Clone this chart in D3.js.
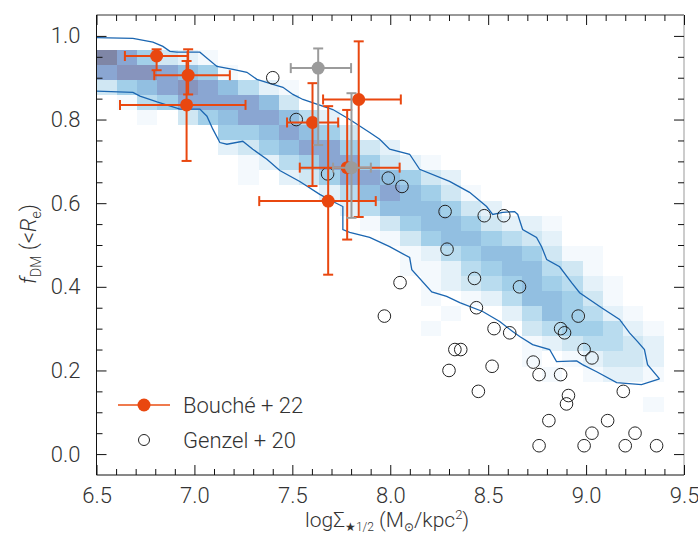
<!DOCTYPE html>
<html><head><meta charset="utf-8">
<script src="https://cdn.jsdelivr.net/npm/d3@7"></script>
<style>
body{margin:0;background:#fff}
svg text{font-family:Roboto,"Liberation Sans",Arial,sans-serif;font-weight:300;fill:#333}
</style>
</head><body>
<svg id="chart" width="698" height="535"></svg>
<script>
// ---------- data ----------
const xDomain = [6.5, 9.5];
const yDomain = [-0.05, 1.05];
const xMajorTicks = [6.5, 7.0, 7.5, 8.0, 8.5, 9.0, 9.5];
const yMajorTicks = [0.0, 0.2, 0.4, 0.6, 0.8, 1.0];
const xMinorStep = 0.1, yMinorStep = 0.05;

// 2D histogram (heat map): 29 bins in x across the axis range, rows of fixed height in y
const heatXBins = 29;
const heatYStart = 0.101, heatYStep = 0.0361;
const heatColors = ["#f4f9fd","#e4f1f9","#d0e7f3","#b9dcef","#a2cfe9","#92bfe1","#8aa6d2","#8794bd","#7f86a6"];
// [row, first column, levels per column]
const heatCells = [
  [23, 0, "975321"],
  [22, 0, "7887651"],
  [21, 0, "3567876421"],
  [20, 1, "145777763"],
  [19, 2, "1035677642"],
  [18, 6, "5567653"],
  [17, 6, "235677532"],
  [16, 7, "1245775321"],
  [15, 7, "10235776532"],
  [14, 11, "24676531"],
  [13, 12, "24666532"],
  [12, 13, "1356653221"],
  [11, 14, "135665432"],
  [10, 15, "1245665311"],
  [9, 15, "1124566431"],
  [8, 16, "1234565421"],
  [7, 16, "1012466531"],
  [6, 17, "1002465421"],
  [5, 16, "100003455421"],
  [4, 21, "1234432"],
  [3, 21, "1012332"],
  [2, 22, "101221"],
  [0, 27, "1"]
];

// contour (outer envelope)
const contourUpperX = [6.5,6.686,6.788,6.839,6.875,6.911,7.028,7.054,7.115,7.197,7.268,7.319,7.401,7.452,7.503,7.554,7.707,7.793,7.895,7.946,7.997,8.099,8.150,8.303,8.405,8.492,8.523,8.574,8.635,8.651,8.676,8.747,8.773,8.799,8.865,8.926,8.967,9.079,9.171,9.222,9.263,9.298,9.314,9.375];
const contourUpperY = [0.996,0.994,0.985,0.975,0.963,0.961,0.961,0.951,0.927,0.920,0.913,0.896,0.884,0.877,0.860,0.848,0.824,0.800,0.769,0.753,0.729,0.717,0.681,0.652,0.626,0.592,0.573,0.578,0.580,0.573,0.537,0.518,0.496,0.465,0.448,0.410,0.386,0.350,0.322,0.290,0.269,0.250,0.214,0.180];
const contourLowerX = [6.5,6.686,6.722,6.809,6.926,7.028,7.064,7.094,7.130,7.166,7.247,7.298,7.370,7.436,7.538,7.640,7.707,7.758,7.758,7.793,7.895,7.997,8.099,8.110,8.212,8.288,8.355,8.472,8.559,8.625,8.661,8.727,8.814,8.849,8.952,8.982,9.054,9.156,9.283,9.375];
const contourLowerY = [0.868,0.865,0.856,0.842,0.825,0.825,0.808,0.777,0.745,0.741,0.748,0.729,0.705,0.678,0.652,0.621,0.604,0.592,0.537,0.530,0.518,0.496,0.470,0.441,0.388,0.377,0.362,0.341,0.317,0.293,0.281,0.262,0.250,0.221,0.223,0.214,0.197,0.171,0.166,0.180];

// Genzel + 20
const genzelX = [7.40,7.52,7.68,7.99,8.06,8.28,8.48,8.58,8.29,8.05,8.43,8.66,7.97,8.44,8.96,8.53,8.61,8.87,8.89,8.33,8.36,8.99,9.03,8.30,8.52,8.73,8.76,8.87,8.45,9.19,8.91,8.90,8.81,9.11,9.03,9.25,8.76,8.99,9.20,9.36];
const genzelY = [0.90,0.80,0.67,0.66,0.64,0.58,0.57,0.57,0.49,0.41,0.42,0.40,0.33,0.35,0.33,0.30,0.29,0.30,0.29,0.25,0.25,0.25,0.23,0.20,0.21,0.22,0.19,0.19,0.15,0.15,0.14,0.12,0.08,0.08,0.05,0.05,0.02,0.02,0.02,0.02];

// Bouché + 22
const boucheX   = [6.807,6.968,6.960,7.603,7.839,7.683,7.780];
const boucheY   = [0.952,0.906,0.835,0.793,0.848,0.605,0.685];
const boucheXLo = [6.645,6.795,6.620,7.473,7.657,7.331,7.538];
const boucheXHi = [6.965,7.181,7.261,7.734,8.054,7.926,8.048];
const boucheYLo = [0.918,0.860,0.701,0.641,0.567,0.429,0.513];
const boucheYHi = [0.968,0.968,0.940,0.887,0.987,0.832,0.823];

// grey points
const greyX   = [7.632,7.802];
const greyY   = [0.923,0.685];
const greyXLo = [7.492,7.708];
const greyXHi = [7.800,7.901];
const greyYLo = [0.739,0.565];
const greyYHi = [0.970,0.863];

const legendLabels = ["Bouché + 22", "Genzel + 20"];

// ---------- drawing ----------
const orange = "#e9470f", grey = "#9b9b9b", lineBlue = "#1b66b1";
const svg = d3.select("#chart");
const x = d3.scaleLinear().domain(xDomain).range([96.5, 684]);
const y = d3.scaleLinear().domain(yDomain).range([475, 15]);

// heat map
const cells = [];
heatCells.forEach(([r, c0, s]) => {
  s.split("").forEach((ch, k) => { const v = +ch; if (v > 0) cells.push({r, c: c0 + k, v}); });
});
const bw = (xDomain[1] - xDomain[0]) / heatXBins;
svg.append("g").attr("shape-rendering", "crispEdges").selectAll("rect").data(cells).join("rect")
  .attr("x", d => x(xDomain[0] + d.c * bw))
  .attr("width", d => x(xDomain[0] + (d.c + 1) * bw) - x(xDomain[0] + d.c * bw))
  .attr("y", d => y(heatYStart + (d.r + 1) * heatYStep))
  .attr("height", d => y(heatYStart + d.r * heatYStep) - y(heatYStart + (d.r + 1) * heatYStep))
  .attr("fill", d => heatColors[d.v - 1]);

// contour
const line = d3.line().x(d => x(d[0])).y(d => y(d[1]));
const contourPts = contourUpperX.map((v, i) => [v, contourUpperY[i]]);
const lowerPts = contourLowerX.map((v, i) => [v, contourLowerY[i]]);
svg.append("path").attr("d", line(contourPts)).attr("fill", "none").attr("stroke", lineBlue).attr("stroke-width", 1.3);
svg.append("path").attr("d", line(lowerPts)).attr("fill", "none").attr("stroke", lineBlue).attr("stroke-width", 1.3);

// Genzel circles
svg.append("g").selectAll("circle").data(genzelX.map((v, i) => [v, genzelY[i]])).join("circle")
  .attr("cx", d => x(d[0])).attr("cy", d => y(d[1])).attr("r", 6.3)
  .attr("fill", "none").attr("stroke", "#222").attr("stroke-width", 1);

function errPoints(X, Y, XL, XH, YL, YH, col) {
  const g = svg.append("g");
  const cap = 5;
  X.forEach((v, i) => {
    const cx = x(v), cy = y(Y[i]);
    g.append("line").attr("x1", x(XL[i])).attr("x2", x(XH[i])).attr("y1", cy).attr("y2", cy).attr("stroke", col).attr("stroke-width", 2);
    g.append("line").attr("x1", cx).attr("x2", cx).attr("y1", y(YL[i])).attr("y2", y(YH[i])).attr("stroke", col).attr("stroke-width", 2);
    [XL[i], XH[i]].forEach(xv => g.append("line").attr("x1", x(xv)).attr("x2", x(xv)).attr("y1", cy - cap).attr("y2", cy + cap).attr("stroke", col).attr("stroke-width", 2));
    [YL[i], YH[i]].forEach(yv => g.append("line").attr("x1", cx - cap).attr("x2", cx + cap).attr("y1", y(yv)).attr("y2", y(yv)).attr("stroke", col).attr("stroke-width", 2));
  });
  X.forEach((v, i) => g.append("circle").attr("cx", x(v)).attr("cy", y(Y[i])).attr("r", 6.5).attr("fill", col));
}
errPoints(boucheX, boucheY, boucheXLo, boucheXHi, boucheYLo, boucheYHi, orange);
errPoints(greyX, greyY, greyXLo, greyXHi, greyYLo, greyYHi, grey);

// frame
const fr = svg.append("g").attr("fill", "none");
fr.append("line").attr("x1", 96.5).attr("x2", 684).attr("y1", 15).attr("y2", 15).attr("stroke", "#333");
fr.append("line").attr("x1", 684).attr("x2", 684).attr("y1", 15).attr("y2", 475).attr("stroke", "#999");
fr.append("line").attr("x1", 96.5).attr("x2", 96.5).attr("y1", 15).attr("y2", 475).attr("stroke", "#111");
fr.append("line").attr("x1", 96.5).attr("x2", 684).attr("y1", 475).attr("y2", 475).attr("stroke", "#111");

// ticks via axes
const xMinor = d3.range(Math.round((xDomain[1] - xDomain[0]) / xMinorStep) + 1).map(i => xDomain[0] + i * xMinorStep).filter(v => !xMajorTicks.some(m => Math.abs(m - v) < 1e-6));
const yMinor = d3.range(1, 22).map(i => yDomain[0] + i * yMinorStep).filter(v => !yMajorTicks.some(m => Math.abs(m - v) < 1e-6));
function styleAxis(g) { g.select(".domain").remove(); g.selectAll("line").attr("stroke", "#111"); }
svg.append("g").attr("transform", "translate(0,475)").call(d3.axisBottom(x).tickValues(xMajorTicks).tickSize(-10).tickFormat(d3.format(".1f")).tickPadding(12)).call(styleAxis)
  .selectAll("text").style("font-size", "22px").attr("fill", "#333");
svg.append("g").attr("transform", "translate(0,475)").call(d3.axisBottom(x).tickValues(xMinor).tickSize(-6).tickFormat("")).call(styleAxis);
svg.append("g").attr("transform", "translate(0,15)").call(d3.axisTop(x).tickValues(xMajorTicks).tickSize(-10).tickFormat("")).call(styleAxis);
svg.append("g").attr("transform", "translate(0,15)").call(d3.axisTop(x).tickValues(xMinor).tickSize(-6).tickFormat("")).call(styleAxis);
svg.append("g").attr("transform", "translate(96.5,0)").call(d3.axisLeft(y).tickValues(yMajorTicks).tickSize(-10).tickFormat(d3.format(".1f")).tickPadding(16)).call(styleAxis)
  .selectAll("text").style("font-size", "22px").attr("fill", "#333");
svg.append("g").attr("transform", "translate(96.5,0)").call(d3.axisLeft(y).tickValues(yMinor).tickSize(-6).tickFormat("")).call(styleAxis);
svg.append("g").attr("transform", "translate(684,0)").call(d3.axisRight(y).tickValues(yMajorTicks).tickSize(-10).tickFormat("")).call(styleAxis);
svg.append("g").attr("transform", "translate(684,0)").call(d3.axisRight(y).tickValues(yMinor).tickSize(-6).tickFormat("")).call(styleAxis);

// axis titles
const xt = svg.append("text").attr("x", 305).attr("y", 527).style("font-size", "21px");
xt.append("tspan").text("logΣ");
xt.append("tspan").attr("dy", 4).style("font-size", "12px").text("★1/2");
xt.append("tspan").attr("dy", -4).text(" (M");
xt.append("tspan").attr("dy", 4).style("font-size", "12px").text("⊙");
xt.append("tspan").attr("dy", -4).text("/kpc");
xt.append("tspan").attr("dy", -8).style("font-size", "13px").text("2");
xt.append("tspan").attr("dy", 8).text(")");

const yt = svg.append("text").attr("transform", "translate(36,284) rotate(-90)").style("font-size", "22px");
yt.append("tspan").style("font-style", "italic").text("f");
yt.append("tspan").attr("dy", 5).style("font-size", "14px").text("DM");
yt.append("tspan").attr("dy", -5).text(" (<");
yt.append("tspan").style("font-style", "italic").text("R");
yt.append("tspan").attr("dy", 5).style("font-size", "14px").text("e");
yt.append("tspan").attr("dy", -5).text(")");

// legend
const lg = svg.append("g");
lg.append("line").attr("x1", 118).attr("x2", 170).attr("y1", 405).attr("y2", 405).attr("stroke", "#ef7a4e").attr("stroke-width", 2);
lg.append("circle").attr("cx", 144).attr("cy", 405).attr("r", 6.5).attr("fill", orange);
lg.append("circle").attr("cx", 144).attr("cy", 440).attr("r", 5.5).attr("fill", "none").attr("stroke", "#222").attr("stroke-width", 1);
lg.append("text").attr("x", 183).attr("y", 413).style("font-size", "22px").text(legendLabels[0]);
lg.append("text").attr("x", 183).attr("y", 448).style("font-size", "22px").text(legendLabels[1]);
</script>
</body></html>
